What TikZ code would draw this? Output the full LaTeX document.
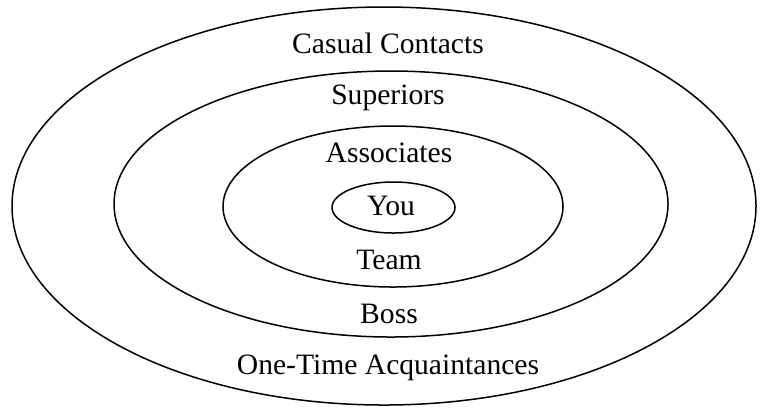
\documentclass[tikz,border=0pt]{standalone}
\usepackage{fontspec}
\setmainfont{Liberation Serif}
\begin{document}
\begin{tikzpicture}[x=0.5pt,y=-0.5pt,
  ring/.style={line width=0.75pt},
  lbl/.style={font=\fontsize{14.8}{17}\selectfont, inner sep=1pt}]
  \useasboundingbox (0,0) rectangle (763,409);

  % Nested rings, outermost first
  \draw[ring] (384,206) ellipse [x radius=372, y radius=199];
  \draw[ring] (391,204) ellipse [x radius=277, y radius=133];
  \draw[ring] (393,206.5) ellipse [x radius=170, y radius=80.5];
  \draw[ring] (393.5,207.5) ellipse [x radius=61.5, y radius=25.5];

  % Labels, top to bottom
  \node[lbl] (casual) at (388,43) {Casual Contacts};
  \node[lbl] (superiors) at (388,98) {Superiors};
  \node[lbl] (associates) at (389,153) {Associates};
  \node[lbl] (you) at (391,206) {You};
  \node[lbl] (team) at (389,260) {Team};
  \node[lbl] (boss) at (389,314) {Boss};
  \node[lbl] (onetime) at (388,368) {One-Time Acquaintances};
\end{tikzpicture}
\end{document}
